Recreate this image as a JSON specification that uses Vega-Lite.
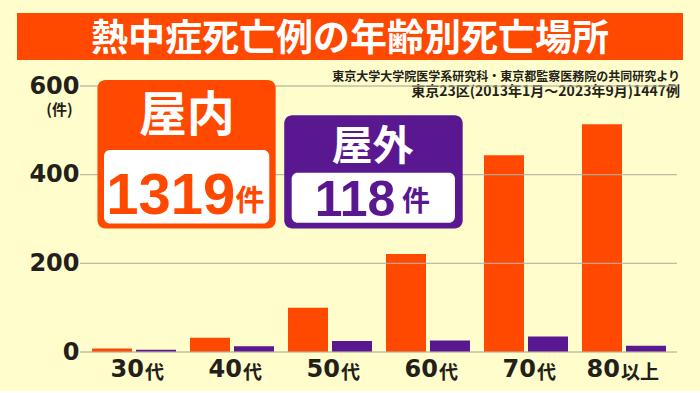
{
  "$schema": "https://vega.github.io/schema/vega-lite/v6.json",
  "background": "#fffdcc",
  "padding": {"left": 17, "top": 13, "right": 17, "bottom": 8},
  "columns": 1,
  "align": "none",
  "bounds": "full",
  "spacing": -25,
  "config": {"view": {"stroke": null}},
  "datasets": {
    "main": [
      {"age": "30代", "place": "屋内", "count": 8},
      {"age": "30代", "place": "屋外", "count": 5},
      {"age": "40代", "place": "屋内", "count": 32},
      {"age": "40代", "place": "屋外", "count": 13},
      {"age": "50代", "place": "屋内", "count": 100},
      {"age": "50代", "place": "屋外", "count": 25},
      {"age": "60代", "place": "屋内", "count": 221},
      {"age": "60代", "place": "屋外", "count": 26},
      {"age": "70代", "place": "屋内", "count": 444},
      {"age": "70代", "place": "屋外", "count": 35},
      {"age": "80以上", "place": "屋内", "count": 514},
      {"age": "80以上", "place": "屋外", "count": 14}
    ],
    "gridlines": [{"value": 0}, {"value": 200}, {"value": 400}, {"value": 600}],
    "totals": [
      {"place": "屋内", "total": "1319", "unit": "件"},
      {"place": "屋外", "total": "118", "unit": "件"}
    ],
    "labels": [
      {"age": "30代", "num": "30", "suffix": "代"},
      {"age": "40代", "num": "40", "suffix": "代"},
      {"age": "50代", "num": "50", "suffix": "代"},
      {"age": "60代", "num": "60", "suffix": "代"},
      {"age": "70代", "num": "70", "suffix": "代"},
      {"age": "80以上", "num": "80", "suffix": "以上"}
    ],
    "heading": [{"heading": "熱中症死亡例の年齢別死亡場所"}]
  },
  "concat": [
    {
      "width": 666,
      "height": 47,
      "view": {"fill": "#ff4800", "stroke": null},
      "title": {
        "text": "東京大学大学院医学系研究科・東京都監察医務院の共同研究より",
        "subtitle": "東京23区(2013年1月～2023年9月)1447例",
        "anchor": "end", "frame": "group", "orient": "bottom", "offset": 12, "dx": -3,
        "font": "Noto Sans CJK JP", "fontSize": 12, "fontWeight": "bold", "color": "#231f1a",
        "subtitleFont": "Noto Sans CJK JP", "subtitleFontSize": 14, "subtitleFontWeight": "bold", "subtitleColor": "#231f1a", "subtitlePadding": 1
      },
      "data": {"name": "heading"},
      "mark": {"type": "text", "color": "white", "font": "Noto Sans CJK JP", "fontWeight": "bold", "fontSize": 37, "baseline": "middle", "align": "center", "dy": 3},
      "encoding": {"text": {"field": "heading"}}
    },
    {
      "width": 660,
      "height": 266,
      "layer": [
        {
          "data": {"name": "main"},
          "mark": {"type": "bar"},
          "encoding": {
            "x": {"field": "age", "type": "nominal",
              "scale": {"domain": ["30代", "40代", "50代", "60代", "70代", "80以上"], "paddingInner": 0.1429, "paddingOuter": 0.4388, "align": 0.872},
              "axis": null},
            "xOffset": {"field": "place", "type": "nominal", "scale": {"domain": ["屋内", "屋外"], "paddingInner": 0.0909, "paddingOuter": 0}},
            "y": {"field": "count", "type": "quantitative",
              "scale": {"domain": [0, 600], "nice": false},
              "axis": {"values": [0, 200, 400, 600], "grid": false, "ticks": false, "domain": false,
                "labelFont": "DejaVu Sans", "labelFontWeight": "bold", "labelFontSize": 24, "labelColor": "#231f1a", "labelPadding": -62, "labelAlign": "right",
                "title": "(件)", "titleAngle": 0, "titleX": 42, "titleY": 23.5, "titleAlign": "center", "titleBaseline": "middle",
                "titleFont": "Noto Sans CJK JP", "titleFontSize": 15, "titleFontWeight": "bold", "titleColor": "#231f1a"}},
            "color": {"field": "place", "type": "nominal", "scale": {"domain": ["屋内", "屋外"], "range": ["#ff4800", "#5a1890"]}, "legend": null}
          }
        },
        {
          "data": {"name": "gridlines"},
          "mark": {"type": "rect", "fill": null, "stroke": "#b4b0a0", "strokeWidth": 0.75},
          "encoding": {
            "x": {"datum": "30代", "type": "nominal", "bandPosition": -0.143},
            "x2": {"datum": "80以上", "bandPosition": 1.131},
            "y": {"field": "value", "type": "quantitative"},
            "y2": {"field": "value"}
          }
        },
        {
          "data": {"name": "totals"},
          "transform": [{"filter": "datum.place == '屋内'"}],
          "mark": {"type": "rect", "cornerRadius": 8},
          "encoding": {
            "x": {"datum": "30代", "type": "nominal", "bandPosition": 0.065},
            "x2": {"datum": "40代", "bandPosition": 1.02},
            "y": {"datum": 613.5, "type": "quantitative"},
            "y2": {"datum": 278.5},
            "color": {"field": "place", "type": "nominal"}
          }
        },
        {
          "data": {"name": "totals"},
          "transform": [{"filter": "datum.place == '屋内'"}],
          "mark": {"type": "rect", "cornerRadius": 6, "color": "white"},
          "encoding": {
            "x": {"datum": "30代", "type": "nominal", "bandPosition": 0.143},
            "x2": {"datum": "40代", "bandPosition": 0.944},
            "y": {"datum": 455.4, "type": "quantitative"},
            "y2": {"datum": 289.8}
          }
        },
        {
          "data": {"name": "totals"},
          "transform": [{"filter": "datum.place == '屋外'"}],
          "mark": {"type": "rect", "cornerRadius": 8},
          "encoding": {
            "x": {"datum": "50代", "type": "nominal", "bandPosition": -0.045},
            "x2": {"datum": "60代", "bandPosition": 0.913},
            "y": {"datum": 533.8, "type": "quantitative"},
            "y2": {"datum": 278.5},
            "color": {"field": "place", "type": "nominal"}
          }
        },
        {
          "data": {"name": "totals"},
          "transform": [{"filter": "datum.place == '屋外'"}],
          "mark": {"type": "rect", "cornerRadius": 6, "color": "white"},
          "encoding": {
            "x": {"datum": "50代", "type": "nominal", "bandPosition": 0.044},
            "x2": {"datum": "60代", "bandPosition": 0.821},
            "y": {"datum": 404.3, "type": "quantitative"},
            "y2": {"datum": 291.4}
          }
        },
        {
          "data": {"name": "totals"},
          "transform": [{"filter": "datum.place == '屋内'"}],
          "mark": {"type": "text", "font": "Noto Sans CJK JP", "fontWeight": "bold", "fontSize": 48, "color": "white", "align": "center", "baseline": "alphabetic", "dx": 52.7},
          "encoding": {
            "x": {"datum": "30代", "type": "nominal"},
            "y": {"datum": 498.5, "type": "quantitative"},
            "text": {"field": "place"}
          }
        },
        {
          "data": {"name": "totals"},
          "transform": [{"filter": "datum.place == '屋内'"}],
          "mark": {"type": "text", "font": "Liberation Sans", "fontWeight": "bold", "fontSize": 58, "align": "center", "baseline": "alphabetic", "dx": 36.7},
          "encoding": {
            "x": {"datum": "30代", "type": "nominal"},
            "y": {"datum": 312.4, "type": "quantitative"},
            "text": {"field": "total"},
            "color": {"field": "place", "type": "nominal"}
          }
        },
        {
          "data": {"name": "totals"},
          "transform": [{"filter": "datum.place == '屋内'"}],
          "mark": {"type": "text", "font": "Noto Sans CJK JP", "fontWeight": "bold", "fontSize": 29, "align": "center", "baseline": "alphabetic", "dx": 116},
          "encoding": {
            "x": {"datum": "30代", "type": "nominal"},
            "y": {"datum": 319, "type": "quantitative"},
            "text": {"field": "unit"},
            "color": {"field": "place", "type": "nominal"}
          }
        },
        {
          "data": {"name": "totals"},
          "transform": [{"filter": "datum.place == '屋外'"}],
          "mark": {"type": "text", "font": "Noto Sans CJK JP", "fontWeight": "bold", "fontSize": 41, "color": "white", "align": "center", "baseline": "alphabetic", "dx": 42.5},
          "encoding": {
            "x": {"datum": "50代", "type": "nominal"},
            "y": {"datum": 433.3, "type": "quantitative"},
            "text": {"field": "place"}
          }
        },
        {
          "data": {"name": "totals"},
          "transform": [{"filter": "datum.place == '屋外'"}],
          "mark": {"type": "text", "font": "Liberation Sans", "fontWeight": "bold", "fontSize": 50, "align": "center", "baseline": "alphabetic", "dx": 25},
          "encoding": {
            "x": {"datum": "50代", "type": "nominal"},
            "y": {"datum": 306.3, "type": "quantitative"},
            "text": {"field": "total"},
            "color": {"field": "place", "type": "nominal"}
          }
        },
        {
          "data": {"name": "totals"},
          "transform": [{"filter": "datum.place == '屋外'"}],
          "mark": {"type": "text", "font": "Noto Sans CJK JP", "fontWeight": "bold", "fontSize": 28, "align": "center", "baseline": "alphabetic", "dx": 86},
          "encoding": {
            "x": {"datum": "50代", "type": "nominal"},
            "y": {"datum": 318.5, "type": "quantitative"},
            "text": {"field": "unit"},
            "color": {"field": "place", "type": "nominal"}
          }
        },
        {
          "data": {"name": "labels"},
          "transform": [{"filter": "datum.suffix == '代'"}],
          "mark": {"type": "text", "font": "DejaVu Sans", "fontWeight": "bold", "fontSize": 24, "color": "#231f1a", "align": "right", "baseline": "alphabetic", "dx": 10, "dy": 24.7},
          "encoding": {
            "x": {"field": "age", "type": "nominal"},
            "y": {"datum": 0, "type": "quantitative"},
            "text": {"field": "num"}
          }
        },
        {
          "data": {"name": "labels"},
          "transform": [{"filter": "datum.suffix == '代'"}],
          "mark": {"type": "text", "font": "Noto Sans CJK JP", "fontWeight": "bold", "fontSize": 19, "color": "#231f1a", "align": "left", "baseline": "alphabetic", "dx": 11, "dy": 27},
          "encoding": {
            "x": {"field": "age", "type": "nominal"},
            "y": {"datum": 0, "type": "quantitative"},
            "text": {"field": "suffix"}
          }
        },
        {
          "data": {"name": "labels"},
          "transform": [{"filter": "datum.suffix == '以上'"}],
          "mark": {"type": "text", "font": "DejaVu Sans", "fontWeight": "bold", "fontSize": 24, "color": "#231f1a", "align": "right", "baseline": "alphabetic", "dx": -4, "dy": 24.7},
          "encoding": {
            "x": {"field": "age", "type": "nominal"},
            "y": {"datum": 0, "type": "quantitative"},
            "text": {"field": "num"}
          }
        },
        {
          "data": {"name": "labels"},
          "transform": [{"filter": "datum.suffix == '以上'"}],
          "mark": {"type": "text", "font": "Noto Sans CJK JP", "fontWeight": "bold", "fontSize": 19, "color": "#231f1a", "align": "left", "baseline": "alphabetic", "dx": -3, "dy": 27},
          "encoding": {
            "x": {"field": "age", "type": "nominal"},
            "y": {"datum": 0, "type": "quantitative"},
            "text": {"field": "suffix"}
          }
        }
      ]
    }
  ]
}
